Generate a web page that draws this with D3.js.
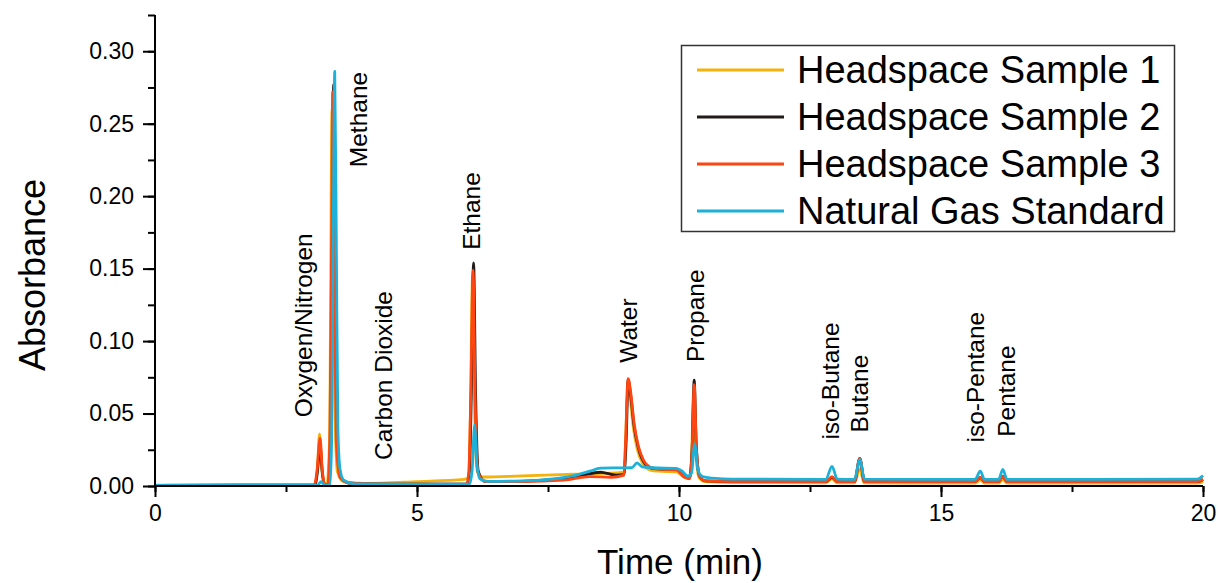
<!DOCTYPE html>
<html>
<head>
<script src="https://d3js.org/d3.v7.min.js"></script>
<style>
  body { margin: 0; background: #fff; }
  svg { font-family: "Liberation Sans", Arial, sans-serif; }
</style>
</head>
<body>
<svg id="chart" width="1218" height="583"></svg>
<script>
// chromatogram traces: [time (min), absorbance]
const sample1 = [[0,0.0006],[2.9,0.0008],[3.06,0.001],[3.1,0.012],[3.14,0.036],[3.18,0.014],[3.22,0.002],[3.28,0.001],[3.33,0.03],[3.38,0.26],[3.43,0.06],[3.48,0.01],[3.6,0.003],[4.0,0.0018],[5.0,0.003],[5.9,0.0045],[5.98,0.006],[6.02,0.05],[6.06,0.145],[6.1,0.05],[6.15,0.01],[6.25,0.0062],[7.0,0.007],[8.0,0.0082],[8.8,0.009],[8.95,0.0095],[8.98,0.03],[9.02,0.071],[9.07,0.06],[9.13,0.04],[9.2,0.026],[9.3,0.016],[9.45,0.011],[9.6,0.0102],[9.95,0.0098],[10.1,0.006],[10.2,0.005],[10.24,0.02],[10.28,0.065],[10.32,0.025],[10.38,0.006],[10.5,0.003],[11,0.0024],[12.8,0.0022],[12.92,0.005],[13.02,0.0022],[13.35,0.0022],[13.45,0.012],[13.53,0.0022],[15.65,0.002],[15.75,0.004],[15.83,0.002],[16.1,0.002],[16.18,0.0045],[16.26,0.002],[19.9,0.002],[20,0.003]];
const sample2 = [[0,0.0005],[3.05,0.0006],[3.1,0.01],[3.15,0.028],[3.19,0.01],[3.24,0.001],[3.31,0.001],[3.35,0.03],[3.38,0.15],[3.41,0.277],[3.44,0.15],[3.48,0.03],[3.55,0.006],[3.7,0.002],[4.5,0.0012],[5.95,0.0012],[6.0,0.01],[6.04,0.07],[6.08,0.154],[6.12,0.06],[6.17,0.01],[6.3,0.003],[7,0.0032],[7.6,0.0045],[8.1,0.007],[8.5,0.0095],[8.8,0.0075],[8.95,0.008],[8.99,0.03],[9.03,0.073],[9.08,0.062],[9.14,0.042],[9.22,0.027],[9.32,0.017],[9.46,0.0125],[9.6,0.0118],[9.95,0.0115],[10.1,0.0065],[10.2,0.0055],[10.25,0.025],[10.29,0.073],[10.33,0.028],[10.39,0.007],[10.5,0.0035],[11,0.003],[12.8,0.003],[12.92,0.006],[13.02,0.003],[13.35,0.003],[13.45,0.019],[13.54,0.003],[15.65,0.003],[15.75,0.006],[15.83,0.003],[16.1,0.003],[16.18,0.0068],[16.26,0.003],[19.9,0.003],[20,0.0045]];
const sample3 = [[0,0.0005],[3.04,0.0006],[3.09,0.01],[3.15,0.033],[3.19,0.012],[3.24,0.001],[3.3,0.001],[3.34,0.04],[3.37,0.16],[3.39,0.272],[3.42,0.15],[3.46,0.03],[3.53,0.006],[3.7,0.002],[4.5,0.0012],[5.95,0.0012],[5.99,0.01],[6.03,0.07],[6.07,0.149],[6.11,0.06],[6.16,0.01],[6.3,0.003],[7,0.003],[7.8,0.004],[8.3,0.0065],[8.7,0.006],[8.95,0.0075],[8.98,0.03],[9.03,0.074],[9.08,0.064],[9.14,0.044],[9.22,0.028],[9.32,0.018],[9.46,0.0128],[9.6,0.0118],[9.95,0.0112],[10.1,0.0062],[10.2,0.0052],[10.25,0.024],[10.29,0.070],[10.33,0.027],[10.39,0.007],[10.5,0.0035],[11,0.003],[12.8,0.003],[12.92,0.0065],[13.02,0.003],[13.35,0.003],[13.45,0.019],[13.54,0.003],[15.65,0.003],[15.75,0.006],[15.83,0.003],[16.1,0.003],[16.18,0.0066],[16.26,0.003],[19.9,0.003],[20,0.0048]];
const natGas = [[0,0.0004],[3.1,0.0005],[3.17,0.003],[3.24,0.0006],[3.34,0.001],[3.37,0.03],[3.40,0.17],[3.43,0.286],[3.46,0.17],[3.49,0.04],[3.53,0.012],[3.6,0.004],[3.8,0.0015],[5.0,0.0013],[6.0,0.0014],[6.05,0.01],[6.1,0.042],[6.14,0.016],[6.2,0.005],[6.35,0.0032],[7,0.0035],[7.5,0.0045],[8.0,0.0072],[8.3,0.0102],[8.5,0.0123],[8.8,0.0125],[9.1,0.0126],[9.2,0.016],[9.3,0.0132],[9.5,0.0126],[9.95,0.0122],[10.05,0.0105],[10.17,0.0068],[10.24,0.009],[10.3,0.029],[10.36,0.011],[10.45,0.0065],[10.7,0.0052],[11,0.0048],[12.8,0.0046],[12.92,0.0135],[13.02,0.0048],[13.35,0.0046],[13.45,0.0185],[13.54,0.0047],[15.65,0.0046],[15.75,0.0103],[15.83,0.0046],[16.1,0.0046],[16.18,0.0115],[16.26,0.0046],[19.9,0.0048],[20,0.0072]];

const seriesNames = ["Headspace Sample 1", "Headspace Sample 2", "Headspace Sample 3", "Natural Gas Standard"];
const seriesColors = ["#F4B20C", "#231a1a", "#FF4512", "#1DB0D8"];
const seriesData = [sample1, sample2, sample3, natGas];

// peak annotations: [name, time, absorbance where text starts]
const peakLabels = [
  ["Oxygen/Nitrogen", 3.0, 0.0475],
  ["Methane", 4.05, 0.22],
  ["Carbon Dioxide", 4.52, 0.018],
  ["Ethane", 6.2, 0.163],
  ["Water", 9.2, 0.085],
  ["Propane", 10.48, 0.0855],
  ["iso-Butane", 13.05, 0.032],
  ["Butane", 13.6, 0.037],
  ["iso-Pentane", 15.82, 0.030],
  ["Pentane", 16.41, 0.034]
];

const xTicks = [0, 5, 10, 15, 20];
const yTicks = [0, 0.05, 0.10, 0.15, 0.20, 0.25, 0.30];

const svg = d3.select("#chart");

const x = d3.scaleLinear().domain([0, 20]).range([155, 1203]);
const y = d3.scaleLinear().domain([0, 0.325]).range([486, 15]);

// traces
const line = d3.line()
    .x(d => x(d[0]))
    .y(d => y(d[1]))
    .curve(d3.curveMonotoneX);

svg.append("g").selectAll("path")
    .data(seriesData)
    .enter().append("path")
    .attr("d", line)
    .attr("fill", "none")
    .attr("stroke", (d, i) => seriesColors[i])
    .attr("stroke-width", 2.8)
    .attr("stroke-linejoin", "round");

// axes
const xAxis = svg.append("g").attr("transform", "translate(0,486)");
xAxis.call(d3.axisBottom(x).tickValues(d3.range(0, 20.01, 2.5)).tickSize(6).tickFormat(""));
xAxis.call(g => g.append("g").call(d3.axisBottom(x).tickValues(xTicks).tickSize(11).tickPadding(8).tickFormat(d3.format("d"))));

const yAxis = svg.append("g").attr("transform", "translate(155,0)");
yAxis.call(d3.axisLeft(y).tickValues(d3.range(0, 0.326, 0.025)).tickSize(7).tickFormat(""));
yAxis.call(g => g.append("g").call(d3.axisLeft(y).tickValues(yTicks).tickSize(12).tickPadding(9).tickFormat(d3.format(".2f"))));

svg.selectAll(".domain").attr("stroke", "#000").attr("stroke-width", 2);
svg.selectAll(".tick line").attr("stroke", "#000").attr("stroke-width", 2);
svg.selectAll(".tick text").attr("fill", "#000").style("font-size", "23px").style("font-family", "Liberation Sans, Arial, sans-serif");
xAxis.selectAll("path.domain").attr("d", "M155,0H1203");
yAxis.selectAll("path.domain").attr("d", "M0,486V15");

// axis titles
svg.append("text")
    .attr("x", 680).attr("y", 574)
    .attr("text-anchor", "middle")
    .style("font-size", "35px")
    .text("Time (min)");

svg.append("text")
    .attr("transform", "translate(45,275) rotate(-90)")
    .attr("text-anchor", "middle")
    .style("font-size", "36px")
    .text("Absorbance");

// peak labels
svg.append("g").selectAll("text")
    .data(peakLabels)
    .enter().append("text")
    .attr("transform", d => `translate(${x(d[1])},${y(d[2])}) rotate(-90)`)
    .style("font-size", "24.5px")
    .text(d => d[0]);

// legend
const legend = svg.append("g");
legend.append("rect")
    .attr("x", 681.5).attr("y", 45.5)
    .attr("width", 493).attr("height", 186)
    .attr("fill", "#fff")
    .attr("stroke", "#333")
    .attr("stroke-width", 1.5);

seriesNames.forEach((name, i) => {
    const ly = 70 + i * 47;
    legend.append("line")
        .attr("x1", 697).attr("x2", 784)
        .attr("y1", ly).attr("y2", ly)
        .attr("stroke", seriesColors[i])
        .attr("stroke-width", 2.8);
    legend.append("text")
        .attr("x", 797).attr("y", ly + 13)
        .style("font-size", "38px")
        .text(name);
});
</script>
</body>
</html>
